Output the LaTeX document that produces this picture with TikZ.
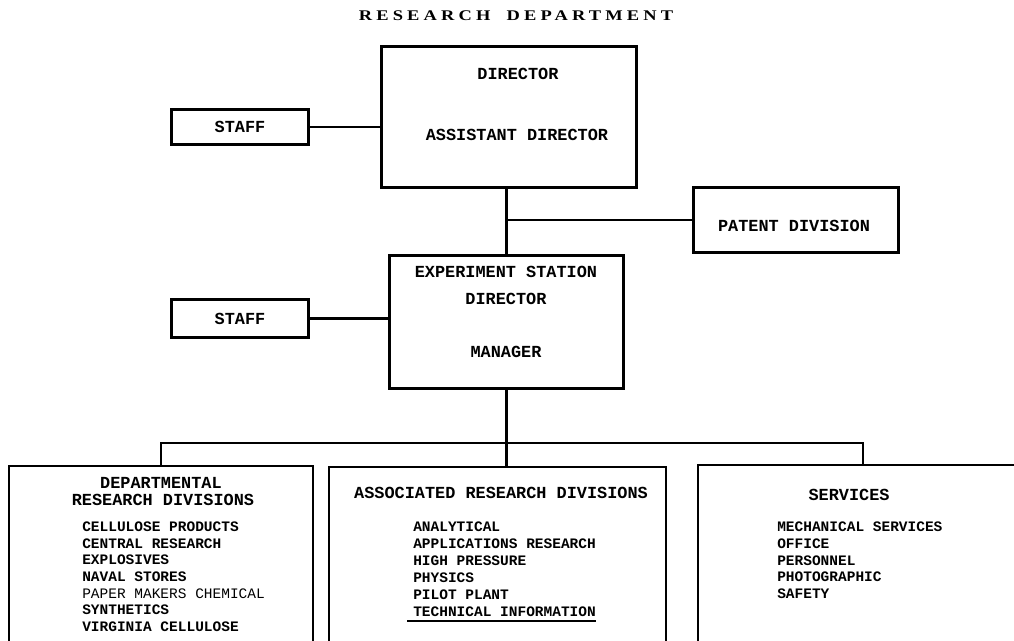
\documentclass[tikz,border=0pt]{standalone}
\usepackage{fontspec}
\usetikzlibrary{positioning}
\newfontfamily\orgfont{Liberation Mono}
\newfontfamily\headfont{Liberation Serif}[FakeStretch=1.25,LetterSpace=28]

\tikzset{
  orgbox/.style={draw, line width=2.1pt, inner sep=0pt, anchor=north west},
  divbox/.style={draw, line width=1.7pt, inner sep=0pt, anchor=north west},
  link/.style={line width=1.5pt},
  headtext/.style={font=\headfont\bfseries\fontsize{10.5}{12}\selectfont, inner sep=0pt},
  boxtext/.style={font=\orgfont\bfseries\fontsize{12}{14}\selectfont, inner sep=0pt},
  itemtext/.style={font=\orgfont\bfseries\fontsize{10.3}{12}\selectfont, anchor=west, inner sep=0pt},
}

\begin{document}
\begin{tikzpicture}[x=0.025cm, y=-0.025cm]
  \useasboundingbox (0,0) rectangle (1014,640);
  \fill[white] (0,0) rectangle (1014,640);
  \clip (0,0) rectangle (1014,640);

  \node[headtext] (title) at (516,16) {RESEARCH\hspace{1.1em}DEPARTMENT};

  % upper boxes
  \node[orgbox, minimum width=6.375cm, minimum height=3.525cm] (dir) at (380,45) {};
  \node[orgbox, boxtext, minimum width=3.425cm, minimum height=0.875cm] (staffA) at (170,108) {STAFF};
  \node[orgbox, minimum width=5.125cm, minimum height=1.625cm] (patent) at (692,186) {};
  \node[orgbox, minimum width=5.85cm, minimum height=3.325cm] (exp) at (388,254) {};
  \node[orgbox, boxtext, minimum width=3.425cm, minimum height=0.95cm] (staffB) at (170,298) {STAFF};

  \node[boxtext] (dir-a) at (518,74) {DIRECTOR};
  \node[boxtext] (dir-b) at (517,135) {ASSISTANT DIRECTOR};
  \node[boxtext] (patent-a) at (794,226) {PATENT DIVISION};
  \node[boxtext] (exp-a) at (506,272) {EXPERIMENT STATION};
  \node[boxtext] (exp-b) at (506,299) {DIRECTOR};
  \node[boxtext] (exp-c) at (506,352) {MANAGER};

  % divisions
  \node[divbox, minimum width=7.6cm, minimum height=5.875cm] (dept) at (8,465) {};
  \node[divbox, minimum width=8.425cm, minimum height=5.85cm] (assoc) at (328,466) {};
  \node[divbox, minimum width=8.25cm, minimum height=5.9cm] (serv) at (697,464) {};

  \node[boxtext] (dept-a) at (161,483) {DEPARTMENTAL};
  \node[boxtext] (dept-b) at (163,500) {RESEARCH DIVISIONS};
  \node[boxtext] (assoc-a) at (501,493) {ASSOCIATED RESEARCH DIVISIONS};
  \node[boxtext] (serv-a) at (849,495) {SERVICES};

  \foreach \name [count=\i from 0] in {CELLULOSE PRODUCTS, CENTRAL RESEARCH,
      EXPLOSIVES, NAVAL STORES, \mdseries PAPER MAKERS CHEMICAL, SYNTHETICS,
      VIRGINIA CELLULOSE}
    \node[itemtext] (dept-\i) at (82,{526.7+16.7*\i}) {\name};
  \foreach \name [count=\i from 0] in {ANALYTICAL, APPLICATIONS RESEARCH,
      HIGH PRESSURE, PHYSICS, PILOT PLANT, TECHNICAL INFORMATION}
    \node[itemtext] (assoc-\i) at (413,{526.7+17*\i}) {\name};
  \foreach \name [count=\i from 0] in {MECHANICAL SERVICES, OFFICE, PERSONNEL,
      PHOTOGRAPHIC, SAFETY}
    \node[itemtext] (serv-\i) at (777,{526.7+16.8*\i}) {\name};
  \draw[line width=1.2pt] ([xshift=-4,yshift=-3]assoc-5.south west) -- ([yshift=-3]assoc-5.south east);

  % connectors
  \draw[link] (staffA.east) -- (staffA.east -| dir.west);
  \draw[link] (dir.south -| exp.north) -- (exp.north);
  \draw[link] (patent.west) -- (patent.west -| exp.north);
  \draw[link] (staffB.east) -- (staffB.east -| exp.west);
  \draw[link] (exp.south) -- (exp.south |- assoc.north);
  \coordinate (bus) at (505,443);
  \draw[link] (dept.north) |- (bus) -| (serv.north);
\end{tikzpicture}
\end{document}
